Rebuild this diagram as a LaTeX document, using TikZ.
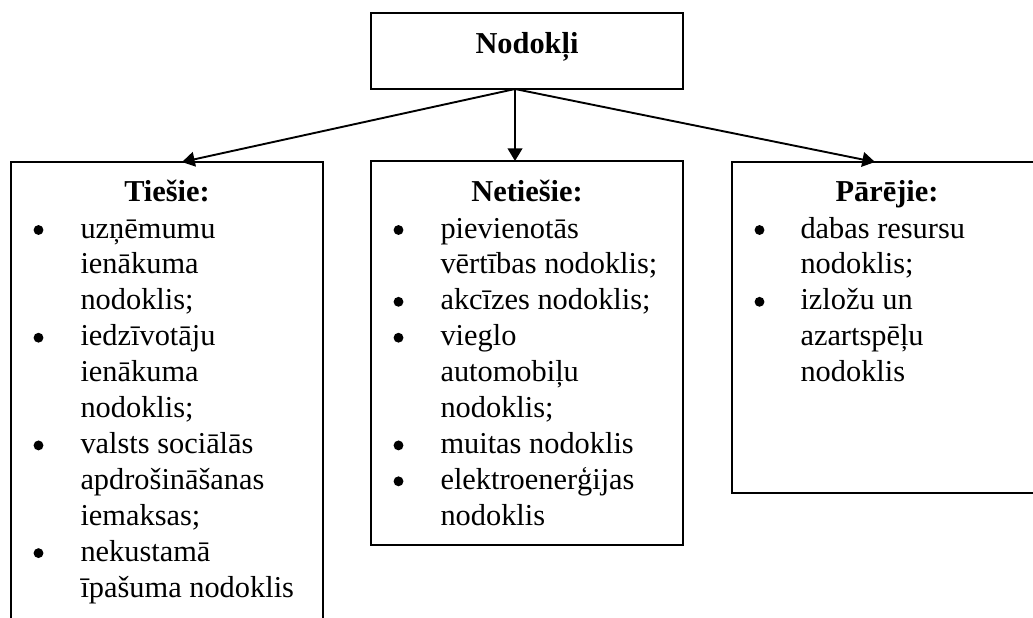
\documentclass[tikz,border=0pt]{standalone}
\usepackage{fontspec}
\setmainfont{Liberation Serif}
\usetikzlibrary{arrows.meta}
\begin{document}
\begin{tikzpicture}[x=0.395pt,y=-0.395pt,
  box/.style={draw=black,line width=0.75pt,rectangle,inner sep=0pt},
  arr/.style={line width=0.75pt,-{Triangle[length=5pt,width=5.8pt]}},
  tline/.style={anchor=base west,inner sep=0pt,font=\fontsize{12}{14}\selectfont},
  ttl/.style={anchor=base,inner sep=0pt,font=\fontsize{12}{14}\selectfont\bfseries},
  bul/.style={circle,fill=black,inner sep=0pt,minimum size=3.9pt}]
\useasboundingbox (0,0) rectangle (1033,617);
\clip (0,0) rectangle (1033,617);
% boxes
\node[box,minimum width=312*0.395pt,minimum height=76*0.395pt] (top) at (527,51) {};
\node[box,minimum width=312*0.395pt,minimum height=478*0.395pt] (left) at (167,401) {};
\node[box,minimum width=312*0.395pt,minimum height=384*0.395pt] (mid) at (527,353) {};
\node[box,minimum width=310*0.395pt,minimum height=331*0.395pt] (right) at (887,327.5) {};
% titles
\node[ttl] (ttop) at (527,53) {Nodokļi};
\node[ttl] (tleft) at (167,201) {Tiešie:};
\node[ttl] (tmid) at (527,201) {Netiešie:};
\node[ttl] (tright) at (887,201) {Pārējie:};
% left box
\foreach \t [count=\i] in {uzņēmumu,ienākuma,nodoklis;,iedzīvotāju,ienākuma,nodoklis;,valsts sociālās,apdrošināšanas,iemaksas;,nekustamā,īpašuma nodoklis}
  \node[tline] (L\i) at (80,{238+(\i-1)*35.9}) {\t};
\foreach \i in {1,4,7,10}
  \node[bul] (LB\i) at (38.5,{230+(\i-1)*35.9}) {};
% middle box
\foreach \t [count=\i] in {pievienotās,vērtības nodoklis;,akcīzes nodoklis;,vieglo,automobiļu,nodoklis;,muitas nodoklis,elektroenerģijas,nodoklis}
  \node[tline] (M\i) at (440,{238+(\i-1)*35.9}) {\t};
\foreach \i in {1,3,4,7,8}
  \node[bul] (MB\i) at (398.5,{230+(\i-1)*35.9}) {};
% right box
\foreach \t [count=\i] in {dabas resursu,nodoklis;,izložu un,azartspēļu,nodoklis}
  \node[tline] (R\i) at (800,{238+(\i-1)*35.9}) {\t};
\foreach \i in {1,3}
  \node[bul] (RB\i) at (759.5,{230+(\i-1)*35.9}) {};
% connectors
\coordinate (hub) at (515,89);
\coordinate (tipL) at (182,162);
\coordinate (tipM) at (515,161);
\coordinate (tipR) at (875,162);
\draw[arr] (hub) -- (tipL);
\draw[arr] (hub) -- (tipM);
\draw[arr] (hub) -- (tipR);
\end{tikzpicture}
\end{document}
